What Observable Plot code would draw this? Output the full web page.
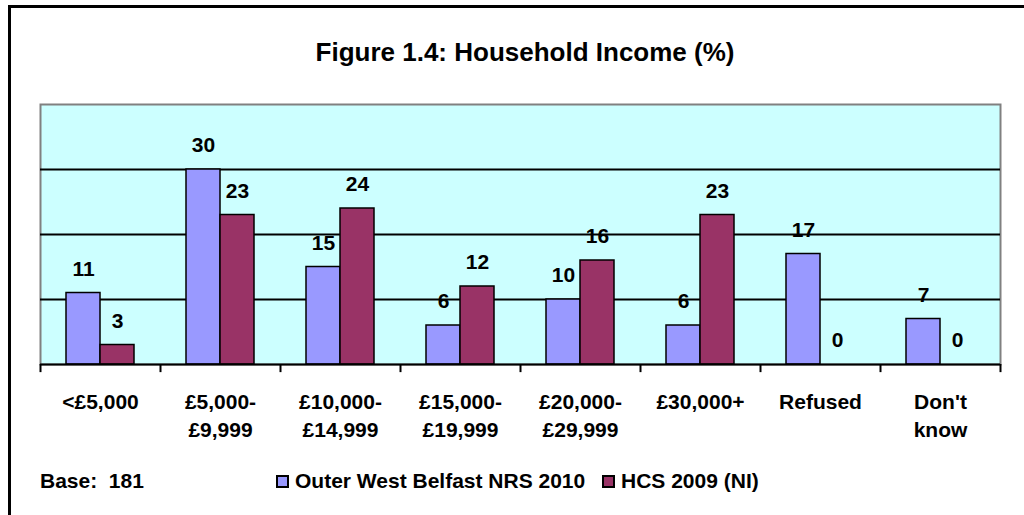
<!DOCTYPE html>
<html>
<head>
<meta charset="utf-8">
<script src="https://cdn.jsdelivr.net/npm/d3@7"></script>
<script src="https://cdn.jsdelivr.net/npm/@observablehq/plot@0.6"></script>
<style>
html, body { margin: 0; padding: 0; background: #fff; }
#page { position: relative; width: 1024px; height: 515px; overflow: hidden;
  font-family: "Liberation Sans", Arial, sans-serif; font-weight: bold; color: #000; }
#border { position: absolute; left: 8px; top: 5px; width: 1100px; height: 600px;
  border-top: 3px solid #000; border-left: 3px solid #000; }
#title { position: absolute; left: 0; top: 37px; width: 1050px; text-align: center;
  font-size: 26px; line-height: 30px; }
#chart { position: absolute; left: 0; top: 80px; }
.note { position: absolute; top: 469px; font-size: 21px; line-height: 24px; white-space: pre; }
.item { position: absolute; top: 469px; height: 24px; display: flex; align-items: center;
  font-size: 21px; white-space: nowrap; }
.sw { width: 13px; height: 13px; box-sizing: border-box; border: 2px solid #000; margin-right: 6px; }
</style>
</head>
<body>
<div id="page">
  <div id="border"></div>
  <div id="title">Figure 1.4: Household Income (%)</div>
  <div id="chart"></div>
  <div class="note" style="left:40px">Base:  181</div>
  <div id="legend"></div>
</div>
<script>
const categories = ["<£5,000", "£5,000-\n£9,999", "£10,000-\n£14,999", "£15,000-\n£19,999",
  "£20,000-\n£29,999", "£30,000+", "Refused", "Don't\nknow"];
const series = ["Outer West Belfast NRS 2010", "HCS 2009 (NI)"];
const outerWest = [11, 30, 15, 6, 10, 6, 17, 7];
const hcs2009 = [3, 23, 24, 12, 16, 23, 0, 0];
const yTicks = [10, 20, 30];
const colors = ["#9999FF", "#993366"];

const d1 = categories.map((c, i) => ({category: c, series: series[0], value: outerWest[i]}));
const d2 = categories.map((c, i) => ({category: c, series: series[1], value: hcs2009[i]}));

const plot = Plot.plot({
  width: 1024,
  height: 370,
  marginTop: 24,
  marginBottom: 86,
  marginLeft: 40,
  marginRight: 24,
  style: {fontFamily: '"Liberation Sans", Arial, sans-serif', fontSize: "21px", fontWeight: "bold",
    color: "#000", background: "transparent", overflow: "visible"},
  x: {domain: categories, padding: 0},
  y: {domain: [0, 40], axis: null},
  marks: [
    Plot.frame({fill: "#CCFFFF", stroke: "#808080", strokeWidth: 2}),
    Plot.ruleY(yTicks, {stroke: "#000", strokeWidth: 2}),
    Plot.barY(d1, {x: "category", y: "value", fill: colors[0], stroke: "#000", strokeWidth: 1.5,
      insetLeft: 26, insetRight: 60}),
    Plot.barY(d2, {x: "category", y: "value", fill: colors[1], stroke: "#000", strokeWidth: 1.5,
      insetLeft: 60, insetRight: 26}),
    Plot.ruleY([0], {stroke: "#000", strokeWidth: 2}),
    Plot.ruleX(categories, {x: (d) => d, y1: 0, y2: -1.25, dx: -60, stroke: "#000", strokeWidth: 2}),
    Plot.ruleX([categories[categories.length - 1]], {x: (d) => d, y1: 0, y2: -1.25, dx: 60, stroke: "#000", strokeWidth: 2}),
    Plot.text(d1, {x: "category", y: "value", text: (d) => String(d.value), dx: -17, dy: -24,
      lineAnchor: "middle", fontSize: 21, fontWeight: "bold", fill: "#000"}),
    Plot.text(d2, {x: "category", y: "value", text: (d) => String(d.value), dx: 17, dy: -24,
      lineAnchor: "middle", fontSize: 21, fontWeight: "bold", fill: "#000"}),
    Plot.axisX({tickSize: 0, tickPadding: 25, lineHeight: 1.33, fontSize: 21, fontWeight: "bold", label: null})
  ]
});
document.getElementById("chart").appendChild(plot);

const legendLefts = [276, 602];
const legend = document.getElementById("legend");
series.forEach((s, i) => {
  const item = document.createElement("div");
  item.className = "item";
  item.style.left = legendLefts[i] + "px";
  const sw = document.createElement("span");
  sw.className = "sw";
  sw.style.background = colors[i];
  const label = document.createElement("span");
  label.textContent = s;
  item.appendChild(sw);
  item.appendChild(label);
  legend.appendChild(item);
});
</script>
</body>
</html>
